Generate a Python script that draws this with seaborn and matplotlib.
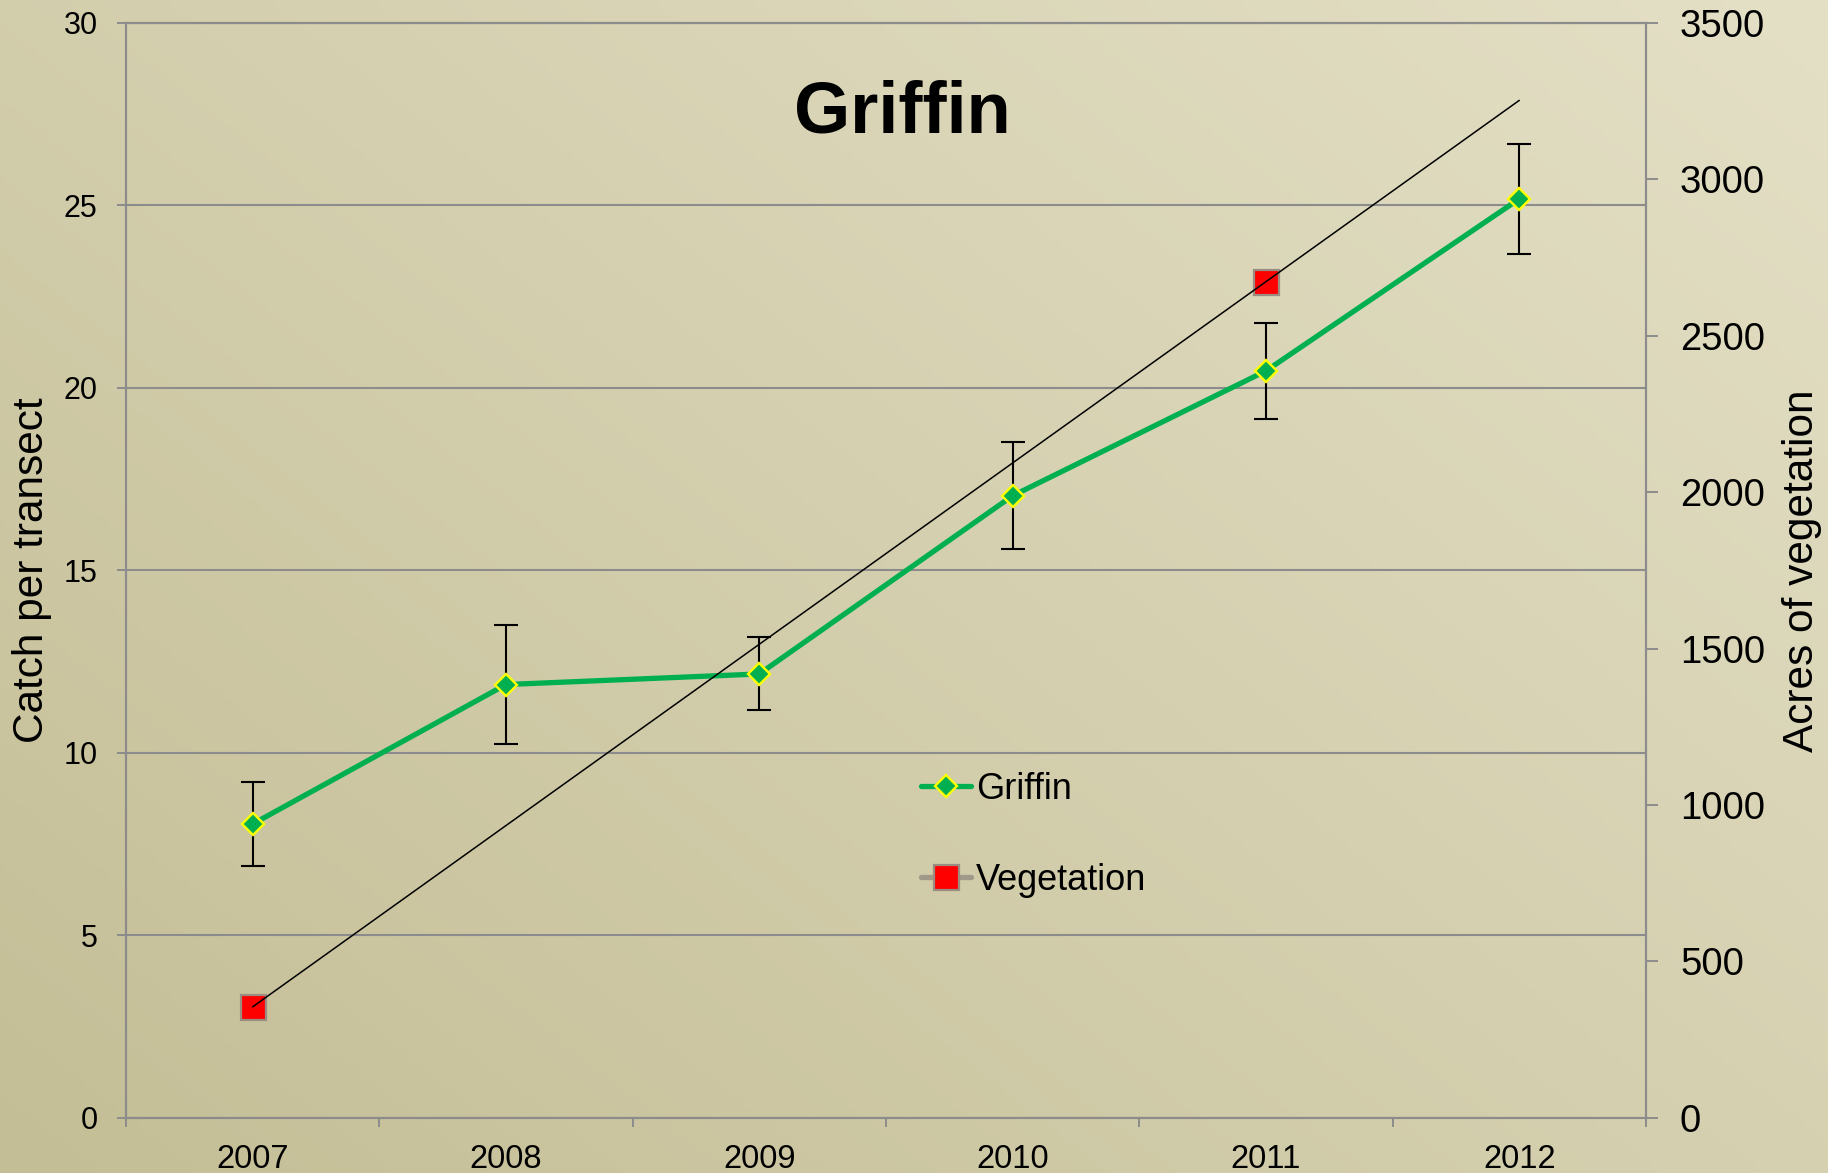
import numpy as np
import pandas as pd
import matplotlib.pyplot as plt
import seaborn as sns

years = ['2007', '2008', '2009', '2010', '2011', '2012']
griffin_catch = [8.05, 11.87, 12.16, 17.04, 20.46, 25.17]
griffin_err = [1.15, 1.63, 1.00, 1.47, 1.31, 1.50]
vegetation_acres = [355, np.nan, np.nan, np.nan, 2672, np.nan]

GREEN = '#00b050'
GRID = '#8c8c8c'

sns.set_style('white')
plt.rcParams['font.family'] = ['Liberation Sans', 'DejaVu Sans']
plt.rcParams['text.color'] = 'black'
plt.rcParams['axes.labelcolor'] = 'black'
plt.rcParams['xtick.labelcolor'] = 'black'
plt.rcParams['ytick.labelcolor'] = 'black'

df = pd.DataFrame({'pos': np.arange(len(years)) + 0.5,
                   'catch': griffin_catch,
                   'err': griffin_err,
                   'veg': vegetation_acres})

fig = plt.figure(figsize=(18.28, 11.73), dpi=100)

# textured beige slide background (simple gradient)
bg = fig.add_axes([0, 0, 1, 1])
bg.set_zorder(-5)
X, Y = np.meshgrid(np.linspace(0, 1, 300), np.linspace(0, 1, 300))
t = (0.55 * X + 0.45 * (1 - Y))
dark = np.array([196, 190, 150]) / 255
light = np.array([228, 224, 198]) / 255
img = dark + t[..., None] * (light - dark)
bg.imshow(img, aspect='auto', extent=[0, 1, 0, 1])
bg.axis('off')

ax = fig.add_axes([0.0689, 0.0469, 0.9004 - 0.0689, 0.9808 - 0.0469])
ax.set_facecolor('none')

ax.errorbar(df['pos'], df['catch'], yerr=df['err'], fmt='none', ecolor='black',
            elinewidth=1.5, capsize=8.5, capthick=1.5, zorder=2)
sns.lineplot(data=df, x='pos', y='catch', ax=ax, color=GREEN, linewidth=3.8,
             marker='D', markersize=11.5, markerfacecolor=GREEN,
             markeredgecolor='#ffff00', markeredgewidth=1.7, zorder=3)
griffin_line = ax.lines[-1]

ax.set_xlim(0, 6)
ax.set_ylim(0, 30)
ax.set_xticks(range(7))
ax.set_xticklabels([])
ax.set_xticks(df['pos'], minor=True)
ax.set_xticklabels(years, minor=True)
ax.tick_params(axis='x', which='major', direction='out', length=6.5, width=1.4,
               color=GRID, bottom=True)
ax.tick_params(axis='x', which='minor', length=0, pad=19, labelsize=23.5)
ax.set_yticks(range(0, 31, 5))
ax.tick_params(axis='y', direction='out', length=6.5, width=1.4, color=GRID,
               pad=14, labelsize=22, left=True)
ax.yaxis.grid(True, color=GRID, linewidth=1.5)
ax.xaxis.grid(False)
ax.set_xlabel('')
ax.set_ylabel('Catch per transect', fontsize=30.5)
ax.yaxis.set_label_coords(-0.0485, 0.5)

ax2 = ax.twinx()
ax2.set_facecolor('none')
veg_line, = ax2.plot(df['pos'], df['veg'], color='#a09888', linewidth=3.8,
                     marker='s', markersize=18, markerfacecolor='#ff0000',
                     markeredgecolor='#9a8c80', markeredgewidth=1.6)
mask = df['veg'].notna()
coef = np.polyfit(df.loc[mask, 'pos'], df.loc[mask, 'veg'], 1)
trend_x = np.array([df['pos'].iloc[0], df['pos'].iloc[-1]])
ax2.plot(trend_x, np.polyval(coef, trend_x), color='black', linewidth=1.1)

ax2.set_ylim(0, 3500)
ax2.set_yticks(range(0, 3501, 500))
ax2.tick_params(axis='y', direction='out', length=8.5, width=1.4, color=GRID,
                pad=16, labelsize=27.5, right=True)
ax2.grid(False)
ax2.set_ylabel('Acres of vegetation', fontsize=30.5)
ax2.yaxis.set_label_coords(1.0895, 0.5)

for a in (ax, ax2):
    for s in a.spines.values():
        s.set_color(GRID)
        s.set_linewidth(1.5)

ax2.text(0.5105, 0.917, 'Griffin', transform=ax.transAxes, fontsize=52,
         fontweight='bold', ha='center', va='center')

ax2.legend([griffin_line, veg_line], ['Griffin', 'Vegetation'], loc='center left',
           bbox_to_anchor=(0.523, 0.2583), frameon=False, fontsize=26,
           borderpad=0, borderaxespad=0, handlelength=1.4, handletextpad=0.12,
           labelspacing=1.55)

plt.savefig('out.png', dpi=100)
